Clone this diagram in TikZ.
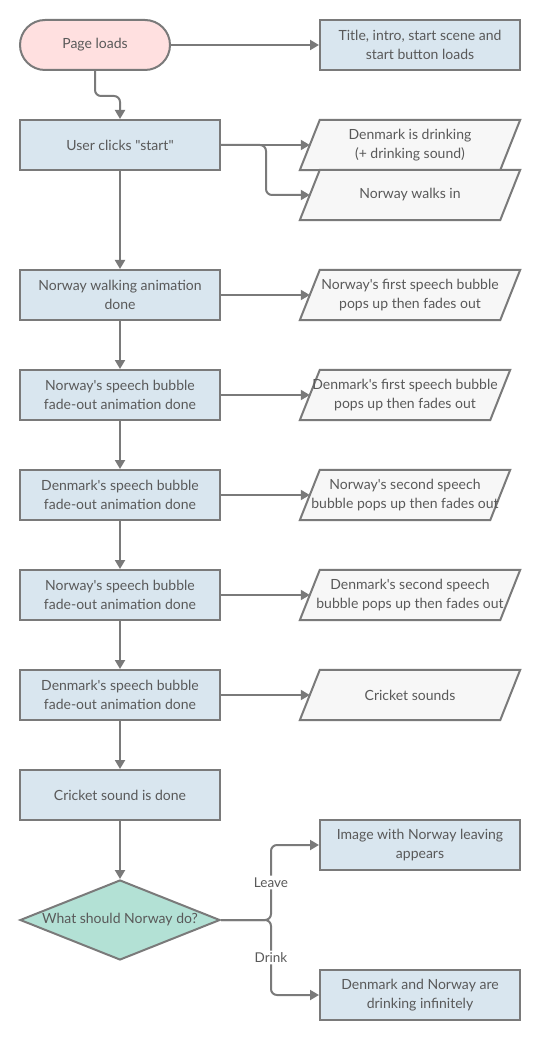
\documentclass[tikz,border=0pt]{standalone}
\usepackage{fontspec}
\setmainfont{Lato}[Ligatures=TeXOff]
\usetikzlibrary{arrows.meta,shapes.geometric,backgrounds}
\definecolor{linec}{HTML}{7A7A7A}
\definecolor{txt}{HTML}{595959}
\definecolor{pinkf}{HTML}{FFE0E0}
\definecolor{bluef}{HTML}{D9E6EF}
\definecolor{greyf}{HTML}{F7F7F7}
\definecolor{tealf}{HTML}{B3E1D5}
\begin{document}
\begin{tikzpicture}[x=1pt,y=-1pt,
  font=\fontsize{14}{19}\selectfont, text=txt,
  box/.style={draw=linec, line width=2pt, fill=bluef, minimum width=200pt, minimum height=50pt, inner sep=0pt, align=center},
  pill/.style={draw=linec, line width=2pt, fill=pinkf, minimum width=150pt, minimum height=50pt, inner sep=0pt, rounded corners=25pt},
  io/.style={minimum width=200pt, minimum height=50pt, inner sep=0pt, align=center},
  ioshape/.style={draw=linec, line width=2pt, fill=greyf, line join=miter},
  dec/.style={diamond, draw=linec, line width=2pt, fill=tealf, aspect=2.5, minimum width=200pt, minimum height=80pt, inner sep=0pt},
  conn/.style={draw=linec, line width=2pt, rounded corners=6pt, -{Triangle[length=9pt,width=10pt]}},
  lbl/.style={fill=white, inner sep=2pt, font=\fontsize{13.5}{15}\selectfont}
]
\useasboundingbox (0,0) rectangle (540,1040);

% main column
\node[pill] (start) at (95,45) {Page loads};
\node[box] (title) at (420,45) {Title, intro, start scene and\\start button loads};
\node[box] (click) at (120,145) {User clicks "start"};
\node[box] (walk) at (120,295) {Norway walking animation\\done};
\node[box] (nfade) at (120,395) {Norway's speech bubble\\fade-out animation done};
\node[box] (dfade) at (120,495) {Denmark's speech bubble\\fade-out animation done};
\node[box] (nfade2) at (120,595) {Norway's speech bubble\\fade-out animation done};
\node[box] (dfade2) at (120,695) {Denmark's speech bubble\\fade-out animation done};
\node[box] (cdone) at (120,795) {Cricket sound is done};
\node[dec] (q) at (120,920) {What should Norway do?};
\node[box] (leave) at (420,845) {Image with Norway leaving\\appears};
\node[box] (drink) at (420,995) {Denmark and Norway are\\drinking infinitely};

% parallelograms (text nodes)
\node[io] (dk1) at (410,145) {Denmark is drinking\\(+ drinking sound)};
\node[io] (nw) at (410,195) {Norway walks in};
\node[io] (nsp1) at (410,295) {Norway's first speech bubble\\pops up then fades out};
\node[io, minimum width=190pt] (dsp1) at (405,395) {Denmark's first speech bubble\\pops up then fades out};
\node[io, minimum width=190pt] (nsp2) at (405,495) {Norway's second speech\\bubble pops up then fades out};
\node[io] (dsp2) at (410,595) {Denmark's second speech\\bubble pops up then fades out};
\node[io] (crick) at (410,695) {Cricket sounds};

\begin{scope}[on background layer]
\foreach \n in {dk1,nw,nsp1,dsp1,nsp2,dsp2,crick}{
  \draw[ioshape] ([xshift=-10pt]\n.south west) -- ([xshift=10pt]\n.north west)
    -- ([xshift=10pt]\n.north east) -- ([xshift=-10pt]\n.south east) -- cycle;
}
\end{scope}

% connectors
\draw[conn] (start.east) -- (title.west);
\draw[conn] (start.south) -- ++(0,25) -| (click.north);
\draw[conn] (click.east) -- (dk1.west);
\draw[conn] (click.east) -- ++(45,0) |- (nw.west);
\draw[conn] (click.south) -- (walk.north);
\draw[conn] (walk.east) -- (nsp1.west);
\draw[conn] (walk.south) -- (nfade.north);
\draw[conn] (nfade.east) -- (dsp1.west);
\draw[conn] (nfade.south) -- (dfade.north);
\draw[conn] (dfade.east) -- (nsp2.west);
\draw[conn] (dfade.south) -- (nfade2.north);
\draw[conn] (nfade2.east) -- (dsp2.west);
\draw[conn] (nfade2.south) -- (dfade2.north);
\draw[conn] (dfade2.east) -- (crick.west);
\draw[conn] (dfade2.south) -- (cdone.north);
\draw[conn] (cdone.south) -- (q.north);
\draw[conn] (q.east) -- ++(50,0) |- node[lbl, pos=0.25] (lleave) {Leave} (leave.west);
\draw[conn] (q.east) -- ++(50,0) |- node[lbl, pos=0.25] (ldrink) {Drink} (drink.west);
\end{tikzpicture}
\end{document}
